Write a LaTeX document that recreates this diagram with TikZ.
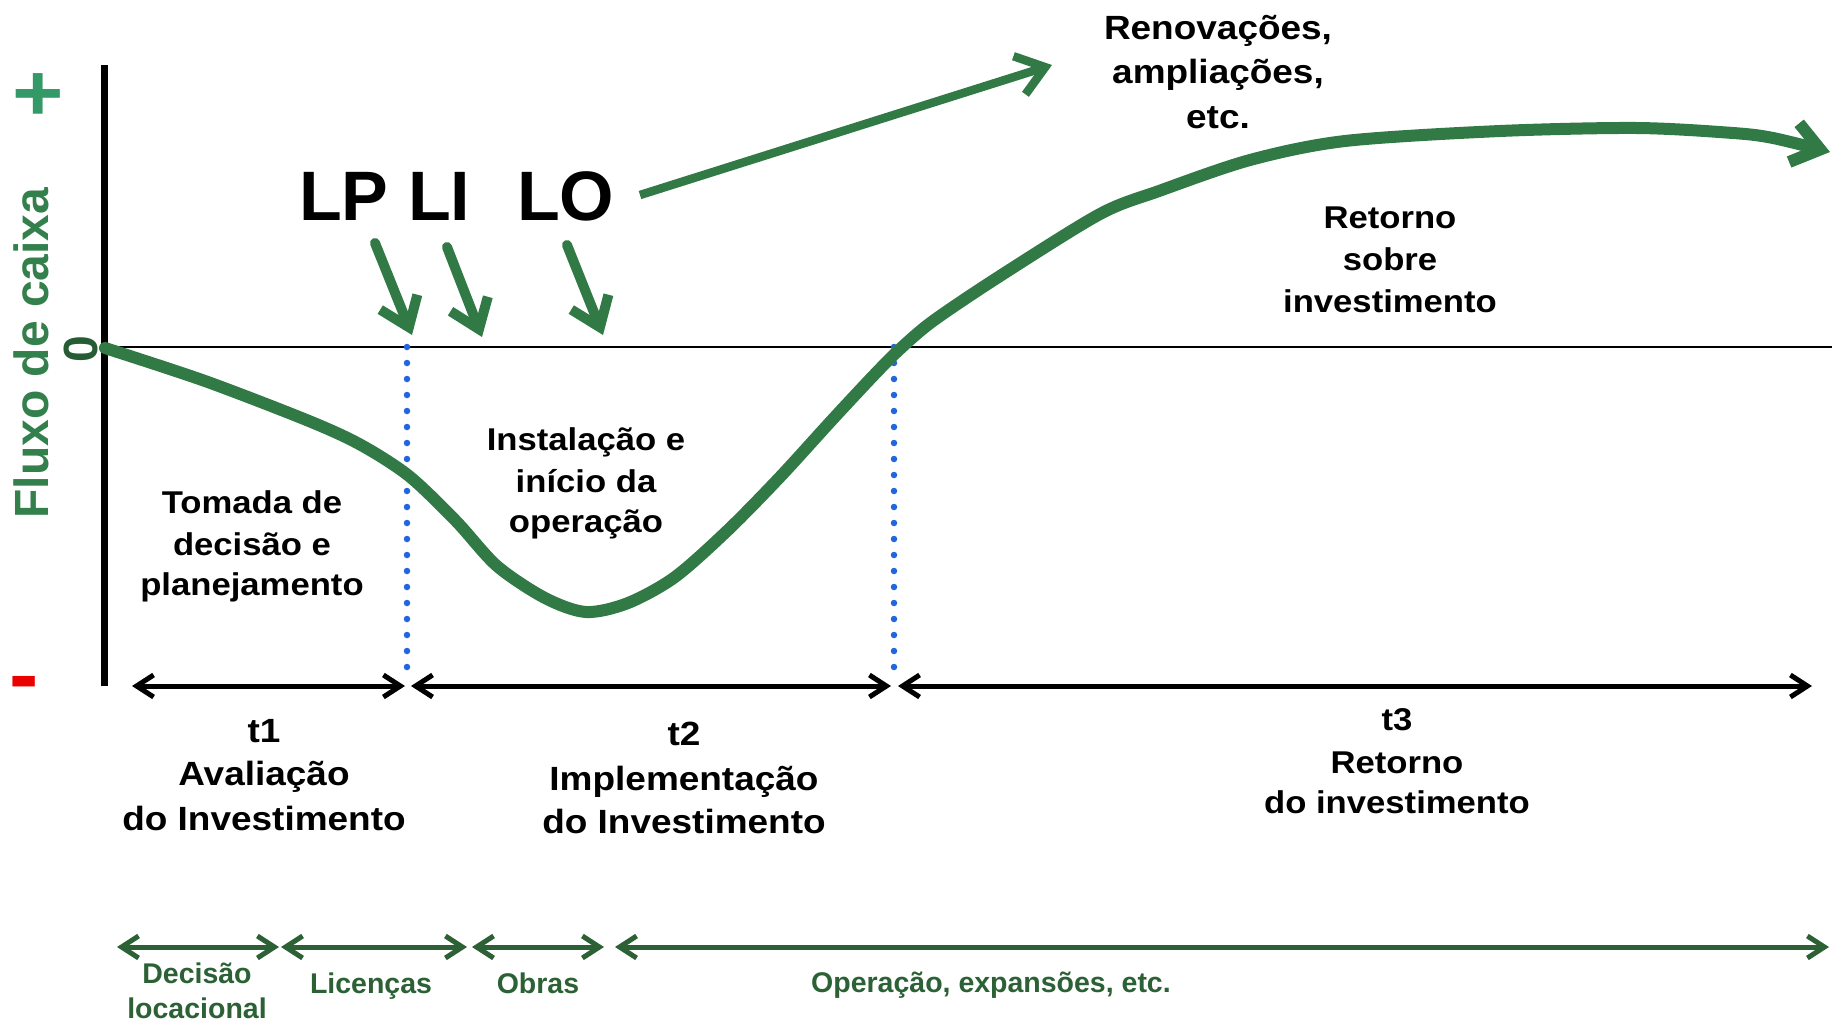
\documentclass[tikz,border=0pt]{standalone}
\usepackage{fontspec}
\setmainfont{Liberation Sans}
\newfontfamily\widefont{Liberation Sans}[FakeStretch=1.1]
\usetikzlibrary{arrows.meta}
\definecolor{curvegreen}{RGB}{49,122,70}
\definecolor{axisgreen}{RGB}{52,128,76}
\definecolor{zerogreen}{RGB}{38,92,52}
\definecolor{plusgreen}{RGB}{51,153,102}
\definecolor{darkgreen}{RGB}{43,97,53}
\definecolor{dotblue}{RGB}{34,102,221}
\definecolor{minusred}{RGB}{235,0,0}
\tikzset{
  gbarb/.tip={Straight Barb[length=27,width=40]},
  kbarb/.tip={Straight Barb[length=17,width=22]},
  curveline/.style={draw=curvegreen,line width=12,line cap=round,line join=round},
  licarrow/.style={draw=curvegreen,line width=10,line cap=round,-gbarb},
  longarrow/.style={draw=curvegreen,line width=8.5,line cap=butt,-gbarb},
  tarrow/.style={draw=black,line width=5,kbarb-kbarb},
  garrow/.style={draw=darkgreen,line width=5,kbarb-kbarb},
  dotline/.style={draw=dotblue,line width=6.5,line cap=round,dash pattern=on 0pt off 16pt},
  bigtxt/.style={inner sep=0pt,anchor=base,font=\widefont\bfseries\fontsize{33.6}{40}\selectfont},
  medtxt/.style={inner sep=0pt,anchor=base,font=\widefont\bfseries\fontsize{31.5}{38}\selectfont},
  gtxt/.style={inner sep=0pt,anchor=base,text=darkgreen,font=\bfseries\fontsize{28.5}{34}\selectfont},
  lictxt/.style={inner sep=0pt,anchor=base west,font=\bfseries\fontsize{70}{80}\selectfont},
}
\begin{document}
\begin{tikzpicture}[x=1pt,y=-1pt]
\fill[white] (0,0) rectangle (1832,1021);
\useasboundingbox (0,0) rectangle (1832,1021);

% axes
\coordinate (axtop) at (104.5,65);
\coordinate (axbot) at (104.5,686);
\coordinate (O) at (104.5,347);
\coordinate (zend) at (1832,347);
\draw[line width=7.5] (axtop) -- (axbot);
\draw[line width=2] (O) -- (zend);

% axis labels
\node[inner sep=0pt,anchor=base,rotate=90,text=axisgreen,font=\bfseries\fontsize{48}{56}\selectfont] (fluxo) at (48,353) {Fluxo de caixa};
\node[inner sep=0pt,anchor=base,rotate=90,text=zerogreen,font=\bfseries\fontsize{48}{56}\selectfont] (zero) at (97,349) {0};
\node[inner sep=0pt,text=plusgreen,font=\widefont\bfseries\fontsize{80}{90}\selectfont] (plus) at (38,97) {+};
\node[inner sep=0pt,text=minusred,font=\bfseries\fontsize{88}{90}\selectfont] (minus) at (24.5,690) {-};

% dotted separators
\coordinate (d1a) at (407,347); \coordinate (d1b) at (407,668);
\coordinate (d2a) at (894,347); \coordinate (d2b) at (894,668);
\draw[dotline] (d1a) -- (d1b);
\draw[dotline] (d2a) -- (d2b);

% cash flow curve
\draw[curveline,-gbarb] plot[smooth,tension=0.5] coordinates {
 (105,348) (205,381) (309,421) (361,445) (409,476) (456,521) (497,566)
 (545,598) (586,612) (628,603) (675,577) (728,530) (780,477) (832,420)
 (874,375) (900,349) (933,321) (1000,276) (1100,214) (1159,191) (1250,160)
 (1345,141) (1500,131) (1637,128) (1733,133) (1773,138) (1830,152)};

% licences
\node[lictxt] (LP) at (299,220) {LP};
\node[lictxt] (LI) at (408,220) {LI};
\node[lictxt] (LO) at (517,220) {LO};
\coordinate (lpa) at (375,243); \coordinate (lpb) at (412,335);
\coordinate (lia) at (447,247); \coordinate (lib) at (482,337);
\coordinate (loa) at (567,245); \coordinate (lob) at (603,335);
\draw[licarrow] (lpa) -- (lpb);
\draw[licarrow] (lia) -- (lib);
\draw[licarrow] (loa) -- (lob);
\coordinate (ra) at (640,195); \coordinate (rb) at (1052,65);
\draw[longarrow] (ra) -- (rb);

% texts in the graph
\node[bigtxt] (ren1) at (1218,39) {Renovações,};
\node[bigtxt] (ren2) at (1218,83) {ampliações,};
\node[bigtxt] (ren3) at (1218,128) {etc.};
\node[medtxt] (ret1) at (1390,228) {Retorno};
\node[medtxt] (ret2) at (1390,270) {sobre};
\node[medtxt] (ret3) at (1390,312) {investimento};
\node[medtxt] (tom1) at (252,513) {Tomada de};
\node[medtxt] (tom2) at (252,555) {decisão e};
\node[medtxt] (tom3) at (252,595) {planejamento};
\node[medtxt] (ins1) at (586,450) {Instalação e};
\node[medtxt] (ins2) at (586,492) {início da};
\node[medtxt] (ins3) at (586,532) {operação};

% time arrows
\coordinate (t1a) at (132,686); \coordinate (t1b) at (405,686);
\coordinate (t2a) at (411,686); \coordinate (t2b) at (891,686);
\coordinate (t3a) at (898,686); \coordinate (t3b) at (1812,686);
\draw[tarrow] (t1a) -- (t1b);
\draw[tarrow] (t2a) -- (t2b);
\draw[tarrow] (t3a) -- (t3b);

\node[bigtxt] (t1l1) at (264,742) {t1};
\node[bigtxt] (t1l2) at (264,785) {Avaliação};
\node[bigtxt] (t1l3) at (264,830) {do Investimento};
\node[bigtxt] (t2l1) at (684,745) {t2};
\node[bigtxt] (t2l2) at (684,790) {Implementação};
\node[bigtxt] (t2l3) at (684,833) {do Investimento};
\node[medtxt] (t3l1) at (1397,730) {t3};
\node[medtxt] (t3l2) at (1397,773) {Retorno};
\node[medtxt] (t3l3) at (1397,813) {do investimento};

% phase arrows
\coordinate (p1a) at (117,947); \coordinate (p1b) at (279,947);
\coordinate (p2a) at (281,947); \coordinate (p2b) at (467,947);
\coordinate (p3a) at (472,947); \coordinate (p3b) at (604,947);
\coordinate (p4a) at (615,947); \coordinate (p4b) at (1829,947);
\draw[garrow] (p1a) -- (p1b);
\draw[garrow] (p2a) -- (p2b);
\draw[garrow] (p3a) -- (p3b);
\draw[garrow] (p4a) -- (p4b);

\node[gtxt] (ph1a) at (197,983) {Decisão};
\node[gtxt] (ph1b) at (197,1018) {locacional};
\node[gtxt] (ph2) at (371,993) {Licenças};
\node[gtxt] (ph3) at (538,993) {Obras};
\node[gtxt] (ph4) at (991,992) {Operação, expansões, etc.};
\end{tikzpicture}
\end{document}
